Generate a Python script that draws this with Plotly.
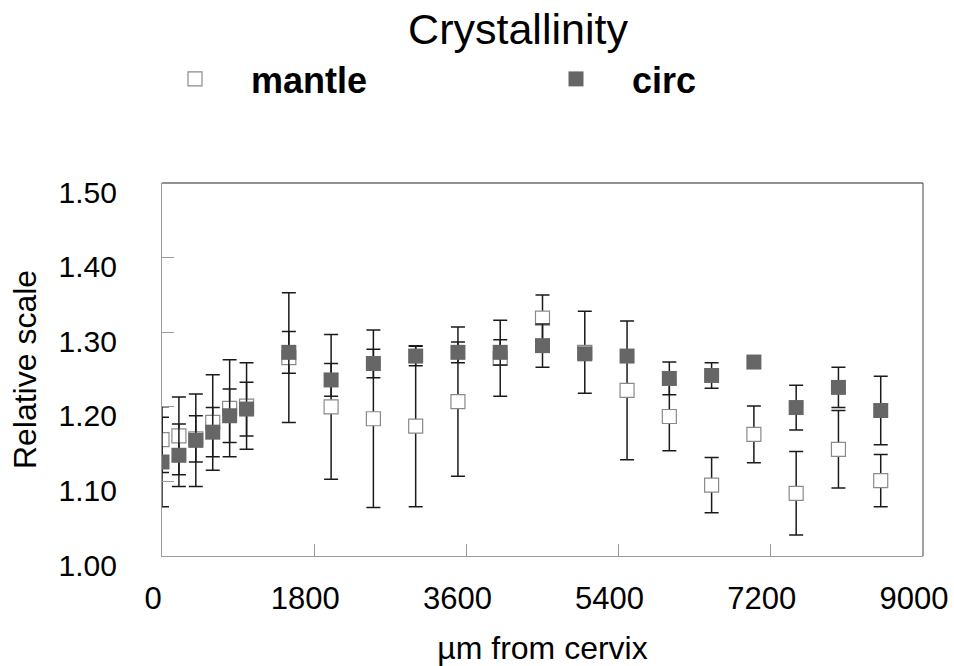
import plotly.graph_objects as go

# ---- data ----
distance_um = [0, 200, 400, 600, 800, 1000, 1500, 2000, 2500, 3000, 3500,
               4000, 4500, 5000, 5500, 6000, 6500, 7000, 7500, 8000, 8500]
mantle = [1.156, 1.161, 1.157, 1.179, 1.198, 1.201, 1.266, 1.200, 1.184, 1.174, 1.207,
          1.265, 1.319, 1.273, 1.222, 1.187, 1.095, 1.163, 1.084, 1.143, 1.101]
mantle_err = [0.044, 0.052, 0.031, 0.064, 0.065, 0.058, 0.087, 0.097, 0.119, 0.108, 0.100,
              0.051, 0.031, 0.055, 0.093, 0.046, 0.037, 0.038, 0.056, 0.052, 0.035]
circ = [1.126, 1.135, 1.155, 1.166, 1.188, 1.197, 1.273, 1.236, 1.258, 1.268, 1.273,
        1.273, 1.282, 1.271, 1.268, 1.238, 1.242, 1.260, 1.199, 1.226, 1.195]
circ_err = [0.060, 0.042, 0.062, 0.033, 0.036, 0.036, 0.028, 0.022, 0.019, 0.013, 0.014,
            0.017, 0.029, 0.008, 0.008, 0.022, 0.017, 0.006, 0.030, 0.027, 0.046]

x_ticks = [0, 1800, 3600, 5400, 7200, 9000]
y_ticks = [1.00, 1.10, 1.20, 1.30, 1.40, 1.50]

title_text = "Crystallinity"
x_title = "µm from cervix"
y_title = "Relative scale"

FONT = "Liberation Sans, Arial, sans-serif"
ERR_COLOR = "#1a1a1a"

W, H = 954, 666
ML, MR, MT, MB = 162, 31, 183, 110
PW, PH = W - ML - MR, H - MT - MB

fig = go.Figure()

fig.add_trace(go.Scatter(
    x=distance_um, y=mantle, name="<b>mantle</b>", mode="markers",
    marker=dict(symbol="square", size=14, color="white",
                line=dict(color="#8a8a8a", width=1.2)),
    error_y=dict(type="data", array=mantle_err, visible=True,
                 color=ERR_COLOR, thickness=1.5, width=7),
))
fig.add_trace(go.Scatter(
    x=distance_um, y=circ, name="<b>circ</b>", mode="markers",
    marker=dict(symbol="square", size=15, color="#666666",
                line=dict(color="#666666", width=0)),
    error_y=dict(type="data", array=circ_err, visible=True,
                 color=ERR_COLOR, thickness=1.5, width=7),
))

axis_common = dict(
    showgrid=False, zeroline=False, showline=True, linecolor="#9a9a9a",
    linewidth=1.3, ticks="inside", ticklen=12, tickwidth=1.2, tickcolor="#9a9a9a",
    automargin=False,
)

fig.update_layout(
    width=W, height=H,
    margin=dict(l=ML, r=MR, t=MT, b=MB, autoexpand=False),
    paper_bgcolor="white", plot_bgcolor="white",
    font=dict(family=FONT, color="#000000"),
    title=dict(text=title_text, xref="container", yref="container",
               x=0.543, y=0.957, xanchor="center", yanchor="middle",
               font=dict(family=FONT, size=43, color="#000000")),
    xaxis=dict(axis_common, range=[0, 9000], tickvals=x_ticks,
               ticktext=[str(v) for v in x_ticks], ticklabelshift=-9,
               ticklabelstandoff=15,
               tickfont=dict(family=FONT, size=31, color="#000000"),
               title=dict(text=x_title, standoff=22,
                          font=dict(family=FONT, size=32, color="#000000"))),
    yaxis=dict(axis_common, range=[1.0, 1.5], tickvals=y_ticks, tickformat=".2f",
               ticklabelshift=9, ticklabelstandoff=38,
               tickfont=dict(family=FONT, size=30, color="#000000"),
               title=dict(text=y_title, standoff=12,
                          font=dict(family=FONT, size=32, color="#000000"))),
    showlegend=True,
    legend=dict(orientation="h", xref="paper", yref="paper",
                x=(139 - ML) / PW, y=(H - MB - 79) / PH,
                xanchor="left", yanchor="middle",
                bgcolor="rgba(0,0,0,0)", itemwidth=102,
                entrywidth=264, entrywidthmode="pixels",
                font=dict(family=FONT, size=36, color="#000000")),
    shapes=[
        dict(type="line", xref="x domain", yref="y domain", x0=0, x1=1, y0=1, y1=1,
             line=dict(color="#6e6e6e", width=1.3)),
        dict(type="line", xref="x domain", yref="y domain", x0=1, x1=1, y0=0, y1=1,
             line=dict(color="#6e6e6e", width=1.3)),
    ],
)

fig.write_html("out.html")
